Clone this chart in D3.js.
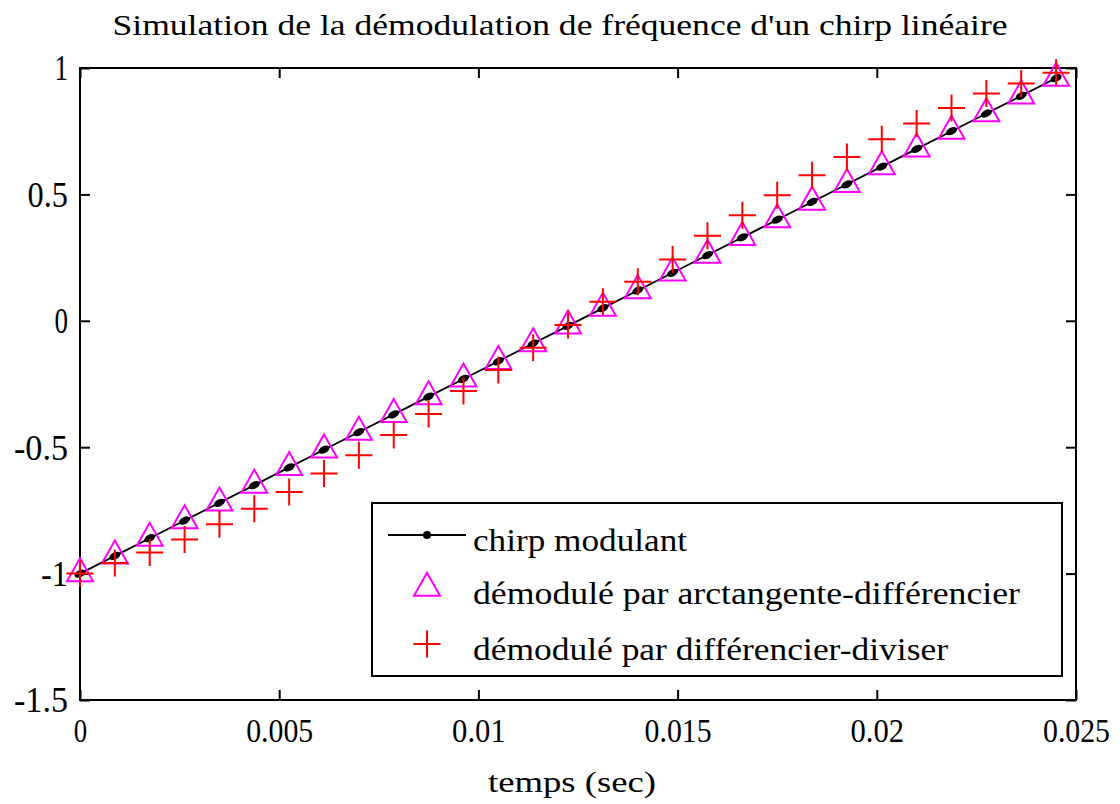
<!DOCTYPE html>
<html>
<head>
<meta charset="utf-8">
<script src="https://cdn.jsdelivr.net/npm/d3@7"></script>
<style>
  html, body { margin: 0; padding: 0; background: #ffffff; }
  svg { display: block; }
  text { font-family: "Liberation Serif", "DejaVu Serif", serif; fill: #000; }
</style>
</head>
<body>
<svg id="chart" width="1120" height="804"></svg>
<script>
// ---- data ----
const times = [0, 0.000875, 0.00175, 0.002625, 0.0035, 0.004375, 0.00525, 0.006125, 0.007, 0.007875,
  0.00875, 0.009625, 0.0105, 0.011375, 0.01225, 0.013125, 0.014, 0.014875, 0.01575, 0.016625,
  0.0175, 0.018375, 0.01925, 0.020125, 0.021, 0.021875, 0.02275, 0.023625, 0.0245];
const chirpValues = [-1.00, -0.93, -0.86, -0.79, -0.72, -0.65, -0.58, -0.51, -0.44, -0.37,
  -0.30, -0.23, -0.16, -0.09, -0.02, 0.05, 0.12, 0.19, 0.26, 0.33,
  0.40, 0.47, 0.54, 0.61, 0.68, 0.75, 0.82, 0.89, 0.96];
const arctanValues = [-1.00, -0.93, -0.86, -0.79, -0.72, -0.65, -0.58, -0.51, -0.44, -0.37,
  -0.30, -0.23, -0.16, -0.09, -0.02, 0.05, 0.12, 0.19, 0.26, 0.33,
  0.40, 0.47, 0.54, 0.61, 0.68, 0.75, 0.82, 0.89, 0.96];
const diffDivValues = [-1.00, -0.958, -0.917, -0.865, -0.805, -0.743, -0.677, -0.604, -0.532, -0.452,
  -0.369, -0.278, -0.195, -0.107, -0.017, 0.075, 0.154, 0.242, 0.336, 0.418,
  0.497, 0.576, 0.648, 0.718, 0.780, 0.842, 0.899, 0.939, 0.981];
const xTickValues = [0, 0.005, 0.01, 0.015, 0.02, 0.025];
const xTickLabels = ["0", "0.005", "0.01", "0.015", "0.02", "0.025"];
const yTickValues = [-1.5, -1, -0.5, 0, 0.5, 1];
const yTickLabels = ["-1.5", "-1", "-0.5", "0", "0.5", "1"];
const legendLabels = ["chirp modulant", "démodulé par arctangente-différencier", "démodulé par différencier-diviser"];
const titleText = "Simulation de la démodulation de fréquence d'un chirp linéaire";
const xLabelText = "temps (sec)";

// ---- layout ----
const L = 80, R = 1076, T = 68, B = 700;
const svg = d3.select("#chart");
const x = d3.scaleLinear().domain([0, 0.025]).range([L, R]);
const y = d3.scaleLinear().domain([-1.5, 1]).range([B, T]);

svg.append("rect").attr("width", 1120).attr("height", 804).attr("fill", "#fff");

// axes (ticks inside, MATLAB style)
const axB = svg.append("g").attr("transform", `translate(0,${B})`)
  .call(d3.axisBottom(x).tickValues(xTickValues).tickSizeInner(-10).tickSizeOuter(0)
    .tickFormat((d, i) => xTickLabels[i]));
const axT = svg.append("g").attr("transform", `translate(0,${T})`)
  .call(d3.axisTop(x).tickValues(xTickValues).tickSizeInner(-10).tickSizeOuter(0).tickFormat(""));
const axLf = svg.append("g").attr("transform", `translate(${L},0)`)
  .call(d3.axisLeft(y).tickValues(yTickValues).tickSizeInner(-10).tickSizeOuter(0)
    .tickFormat((d, i) => yTickLabels[i]));
const axRt = svg.append("g").attr("transform", `translate(${R},0)`)
  .call(d3.axisRight(y).tickValues(yTickValues).tickSizeInner(-10).tickSizeOuter(0).tickFormat(""));

[axB, axT, axLf, axRt].forEach(g => {
  g.select(".domain").remove();
  g.selectAll(".tick line").attr("stroke", "#000").attr("stroke-width", 2);
});
axB.selectAll(".tick text")
  .attr("y", 42).attr("dy", 0)
  .attr("font-size", 34)
  .attr("font-family", "Liberation Serif, serif")
  .attr("textLength", function () { return this.textContent.length * 13.4; })
  .attr("lengthAdjust", "spacingAndGlyphs");
axLf.selectAll(".tick text")
  .attr("x", -12).attr("dy", "0.34em")
  .attr("font-size", 35)
  .attr("font-family", "Liberation Serif, serif")
  .attr("textLength", function () { return this.textContent.length * 13.5; })
  .attr("lengthAdjust", "spacingAndGlyphs");

// frame
svg.append("rect").attr("x", L).attr("y", T).attr("width", R - L).attr("height", B - T)
  .attr("fill", "none").attr("stroke", "#000").attr("stroke-width", 2);

// markers
const triW = 26, triH = 23;
const triPath = `M0,${-2 * triH / 3}L${triW / 2},${triH / 3}L${-triW / 2},${triH / 3}Z`;
const plusS = 13.5;
const plusPath = `M${-plusS},0H${plusS}M0,${-plusS}V${plusS}`;

// chirp line
const pts = times.map((t, i) => [t, chirpValues[i]]);
svg.append("path")
  .attr("d", d3.line().x(d => x(d[0])).y(d => y(d[1]))(pts))
  .attr("fill", "none").attr("stroke", "#000").attr("stroke-width", 1.8);
const ang = Math.atan2(y(chirpValues[1]) - y(chirpValues[0]), x(times[1]) - x(times[0])) * 180 / Math.PI;
svg.append("g").selectAll("ellipse").data(pts).join("ellipse")
  .attr("transform", d => `translate(${x(d[0])},${y(d[1])}) rotate(${ang})`)
  .attr("rx", 6).attr("ry", 3.5).attr("fill", "#000");

// triangles
svg.append("g").selectAll("path").data(times).join("path")
  .attr("transform", (t, i) => `translate(${x(t)},${y(arctanValues[i])})`)
  .attr("d", triPath).attr("fill", "none").attr("stroke", "#ff00ff").attr("stroke-width", 2);

// plus
svg.append("g").selectAll("path").data(times).join("path")
  .attr("transform", (t, i) => `translate(${x(t)},${y(diffDivValues[i])})`)
  .attr("d", plusPath).attr("fill", "none").attr("stroke", "#ff0000").attr("stroke-width", 2);

// title & axis label
svg.append("text").attr("x", 560).attr("y", 35).attr("text-anchor", "middle")
  .attr("font-size", 30).attr("textLength", 895).attr("lengthAdjust", "spacingAndGlyphs")
  .text(titleText);
svg.append("text").attr("x", 572).attr("y", 792).attr("text-anchor", "middle")
  .attr("font-size", 30).attr("textLength", 168).attr("lengthAdjust", "spacingAndGlyphs")
  .text(xLabelText);

// legend
const lg = svg.append("g");
lg.append("rect").attr("x", 372).attr("y", 503).attr("width", 690).attr("height", 173)
  .attr("fill", "#fff").attr("stroke", "#000").attr("stroke-width", 2);
const rowY = [535, 588, 644];
const textW = [214, 547, 475];
lg.append("line").attr("x1", 388).attr("x2", 466).attr("y1", rowY[0]).attr("y2", rowY[0])
  .attr("stroke", "#000").attr("stroke-width", 1.8);
lg.append("circle").attr("cx", 427).attr("cy", rowY[0]).attr("r", 4).attr("fill", "#000");
lg.append("path").attr("transform", `translate(427,${rowY[1]})`).attr("d", triPath)
  .attr("fill", "none").attr("stroke", "#ff00ff").attr("stroke-width", 2);
lg.append("path").attr("transform", `translate(427,${rowY[2]})`).attr("d", plusPath)
  .attr("fill", "none").attr("stroke", "#ff0000").attr("stroke-width", 2);
lg.selectAll("text.lt").data(legendLabels).join("text").attr("class", "lt")
  .attr("x", 473).attr("y", (d, i) => rowY[i] + 16)
  .attr("font-size", 32)
  .attr("textLength", (d, i) => textW[i]).attr("lengthAdjust", "spacingAndGlyphs")
  .text(d => d);
</script>
</body>
</html>
